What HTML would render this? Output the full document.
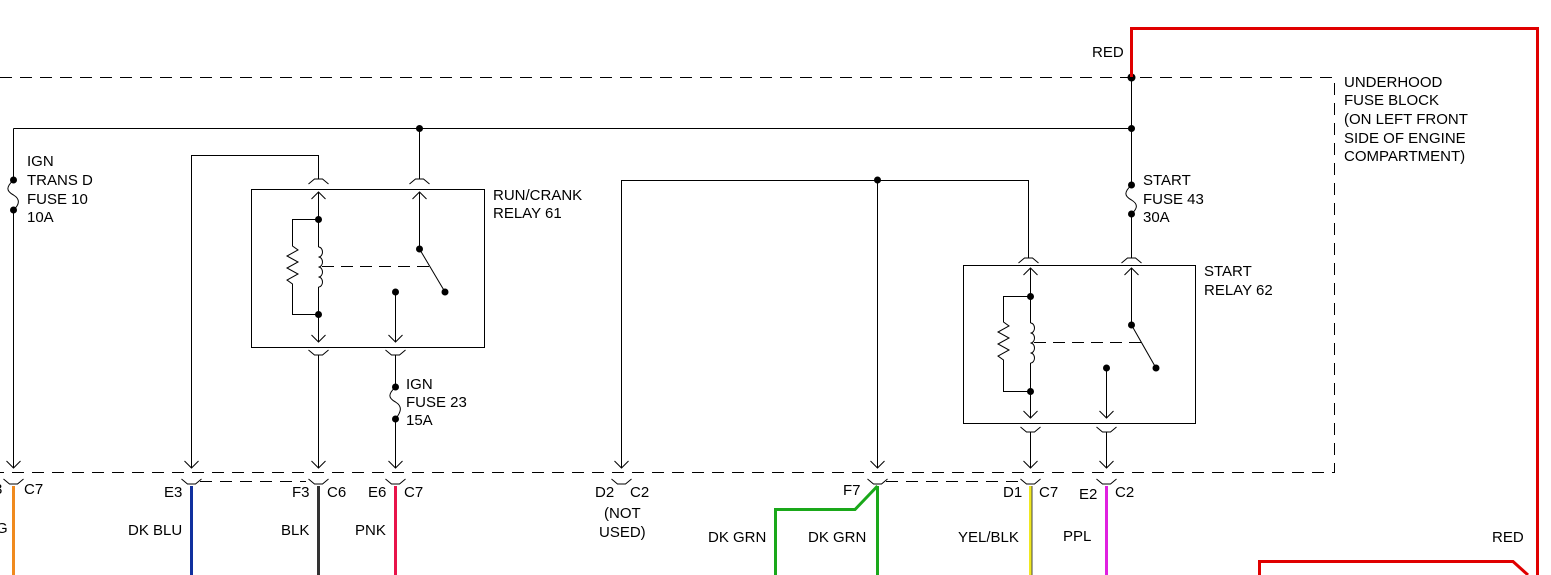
<!DOCTYPE html>
<html><head><meta charset="utf-8"><style>
html,body{margin:0;padding:0;background:#fff;}
svg{display:block;}
text{font-family:"Liberation Sans",Arial,sans-serif;font-size:15px;fill:#000;}
</style></head><body>
<svg width="1551" height="575" viewBox="0 0 1551 575" xmlns="http://www.w3.org/2000/svg">
<defs>
<g id="dn"><path d="M-7,-7 L0,0 L7,-7" fill="none" stroke="#000" stroke-width="1"/></g>
<g id="up"><path d="M-7,7 L0,0 L7,7" fill="none" stroke="#000" stroke-width="1"/></g>
<g id="ctop"><path d="M-10,5 L-4,0 L4,0 L10,5" fill="none" stroke="#000" stroke-width="1"/></g>
<g id="cbot"><path d="M-10,-5 L-4,0 L4,0 L10,-5" fill="none" stroke="#000" stroke-width="1"/></g>
</defs>
<g fill="none" stroke="#000" stroke-width="1">
<path d="M0,77.5 H1334.5 V472.5 H0" stroke-dasharray="12,8"/>
<path d="M200,481.5 H306" stroke-dasharray="12,8"/>
<path d="M886,481.5 H1018" stroke-dasharray="12,8"/>
<path d="M13.5,128.5 H1131.5"/>
<path d="M1131.5,77 V185 M1131.5,214 V258"/>
<path d="M13.5,128.5 V180 M13.5,210 V468"/>
<path d="M13.5,180 C6,187 6,191 13.5,195 C20,199 20,204 13.5,210"/>
<path d="M1131.5,185 C1124,192 1124,196 1131.5,200 C1138,204 1138,208 1131.5,214"/>
<rect x="251.5" y="189.5" width="233" height="158"/>
<path d="M191.5,468 V155.5 H318.5 V179"/>
<path d="M419.5,128 V179"/>
<path d="M318.5,192 V247 M318.5,287 V342"/>
<path d="M318.5,247 a4,5 0 0 1 0,10 a4,5 0 0 1 0,10 a4,5 0 0 1 0,10 a4,5 0 0 1 0,10"/>
<path d="M318.5,219.5 H292.5 V246 L298,250 L287,256 L298,262 L287,268 L298,274 L287,280 L292.5,284 V314.5 H318.5"/>
<path d="M322,266.5 H430" stroke-dasharray="12,7"/>
<path d="M419.5,192 V249 L445,292"/>
<path d="M395.5,292 V342"/>
<path d="M318.5,355 V468 M395.5,355 V387 M395.5,419 V468"/>
<path d="M395.5,387 C388,394 388,398 395.5,402 C402,406 402,411 395.5,419"/>
<path d="M621.5,468 V180.5 H1028.5 V258"/>
<path d="M877.5,180 V468"/>
<rect x="963.5" y="265.5" width="232" height="158"/>
<path d="M1030.5,268 V323 M1030.5,363 V418"/>
<path d="M1030.5,323 a4,5 0 0 1 0,10 a4,5 0 0 1 0,10 a4,5 0 0 1 0,10 a4,5 0 0 1 0,10"/>
<path d="M1030.5,296.5 H1003.5 V322 L1009,326 L998,332 L1009,338 L998,344 L1009,350 L998,356 L1003.5,360 V391.5 H1030.5"/>
<path d="M1034,342.5 H1142" stroke-dasharray="12,7"/>
<path d="M1131.5,268 V325 L1156,368"/>
<path d="M1106.5,368 V418"/>
<path d="M1030.5,432 V468 M1106.5,432 V468"/>
</g>
<use href="#up" x="318.5" y="192"/><use href="#up" x="419.5" y="192"/>
<use href="#ctop" x="318.5" y="179"/><use href="#ctop" x="419.5" y="179"/>
<use href="#dn" x="318.5" y="342"/><use href="#dn" x="395.5" y="342"/>
<use href="#cbot" x="318.5" y="355"/><use href="#cbot" x="395.5" y="355"/>
<use href="#up" x="1030.5" y="268"/><use href="#up" x="1131.5" y="268"/>
<use href="#ctop" x="1028.5" y="258"/><use href="#ctop" x="1131.5" y="258"/>
<use href="#dn" x="1030.5" y="418"/><use href="#dn" x="1106.5" y="418"/>
<use href="#cbot" x="1030.5" y="432"/><use href="#cbot" x="1106.5" y="432"/>
<g>
<use href="#dn" x="13.5" y="468"/><use href="#dn" x="191.5" y="468"/><use href="#dn" x="318.5" y="468"/><use href="#dn" x="395.5" y="468"/>
<use href="#dn" x="621.5" y="468"/><use href="#dn" x="877.5" y="468"/><use href="#dn" x="1030.5" y="468"/><use href="#dn" x="1106.5" y="468"/>
<use href="#cbot" x="13.5" y="484"/><use href="#cbot" x="191.5" y="484"/><use href="#cbot" x="318.5" y="484"/><use href="#cbot" x="395.5" y="484"/>
<use href="#cbot" x="621.5" y="484"/><use href="#cbot" x="877.5" y="484"/><use href="#cbot" x="1030.5" y="484"/><use href="#cbot" x="1106.5" y="484"/>
</g>
<g fill="#000">
<circle cx="419.5" cy="128.5" r="3.5"/><circle cx="1131.5" cy="128.5" r="3.5"/><circle cx="1131.5" cy="77.5" r="4"/>
<circle cx="13.5" cy="180" r="3.5"/><circle cx="13.5" cy="210" r="3.5"/>
<circle cx="1131.5" cy="185" r="3.5"/><circle cx="1131.5" cy="214" r="3.5"/>
<circle cx="395.5" cy="387" r="3.5"/><circle cx="395.5" cy="419" r="3.5"/>
<circle cx="318.5" cy="219.5" r="3.5"/><circle cx="318.5" cy="314.5" r="3.5"/>
<circle cx="419.5" cy="249" r="3.5"/><circle cx="445" cy="292" r="3.5"/><circle cx="395.5" cy="292" r="3.5"/>
<circle cx="877.5" cy="180" r="3.5"/>
<circle cx="1030.5" cy="296.5" r="3.5"/><circle cx="1030.5" cy="391.5" r="3.5"/>
<circle cx="1131.5" cy="325" r="3.5"/><circle cx="1156" cy="368" r="3.5"/><circle cx="1106.5" cy="368" r="3.5"/>
</g>
<g fill="none" stroke-width="3">
<path d="M1131.5,77 V28.5 H1537.5 V575" stroke="#e00000"/>
<path d="M1259.5,575 V561.5 H1513 L1528,575" stroke="#e00000"/>
<path d="M13.5,486 V575" stroke="#f08a1e"/>
<path d="M191.5,486 V575" stroke="#10309e"/>
<path d="M318.5,486 V575" stroke="#333"/>
<path d="M395.5,486 V575" stroke="#e8144a"/>
<path d="M877.5,486 V575 M877.5,486 L855,509.5 H775.5 V575" stroke="#1aa81a"/>
<path d="M1030.5,486 V575" stroke="#f0e820"/>
<path d="M1106.5,486 V575" stroke="#e020e0"/>
</g>
<path d="M1032,486 V575" stroke="#444" stroke-width="1"/>
<text x="1092" y="57">RED</text>
<text x="1344" y="87">UNDERHOOD</text>
<text x="1344" y="105">FUSE BLOCK</text>
<text x="1344" y="124">(ON LEFT FRONT</text>
<text x="1344" y="143">SIDE OF ENGINE</text>
<text x="1344" y="161">COMPARTMENT)</text>
<text x="1143" y="185">START</text>
<text x="1143" y="204">FUSE 43</text>
<text x="1143" y="222">30A</text>
<text x="1204" y="276">START</text>
<text x="1204" y="295">RELAY 62</text>
<text x="27" y="166">IGN</text>
<text x="27" y="185">TRANS D</text>
<text x="27" y="204">FUSE 10</text>
<text x="27" y="222">10A</text>
<text x="493" y="200">RUN/CRANK</text>
<text x="493" y="218">RELAY 61</text>
<text x="406" y="389">IGN</text>
<text x="406" y="407">FUSE 23</text>
<text x="406" y="425">15A</text>
<text x="-6" y="494">3</text><text x="24" y="494">C7</text>
<text x="-4" y="533">G</text>
<text x="164" y="497">E3</text>
<text x="128" y="535">DK BLU</text>
<text x="292" y="497">F3</text><text x="327" y="497">C6</text>
<text x="281" y="535">BLK</text>
<text x="368" y="497">E6</text><text x="404" y="497">C7</text>
<text x="355" y="535">PNK</text>
<text x="595" y="497">D2</text><text x="630" y="497">C2</text>
<text x="604" y="518">(NOT</text>
<text x="599" y="537">USED)</text>
<text x="843" y="495">F7</text>
<text x="708" y="542">DK GRN</text>
<text x="808" y="542">DK GRN</text>
<text x="1003" y="497">D1</text><text x="1039" y="497">C7</text>
<text x="958" y="542">YEL/BLK</text>
<text x="1079" y="499">E2</text><text x="1115" y="497">C2</text>
<text x="1063" y="541">PPL</text>
<text x="1492" y="542">RED</text>
</svg>
</body></html>
